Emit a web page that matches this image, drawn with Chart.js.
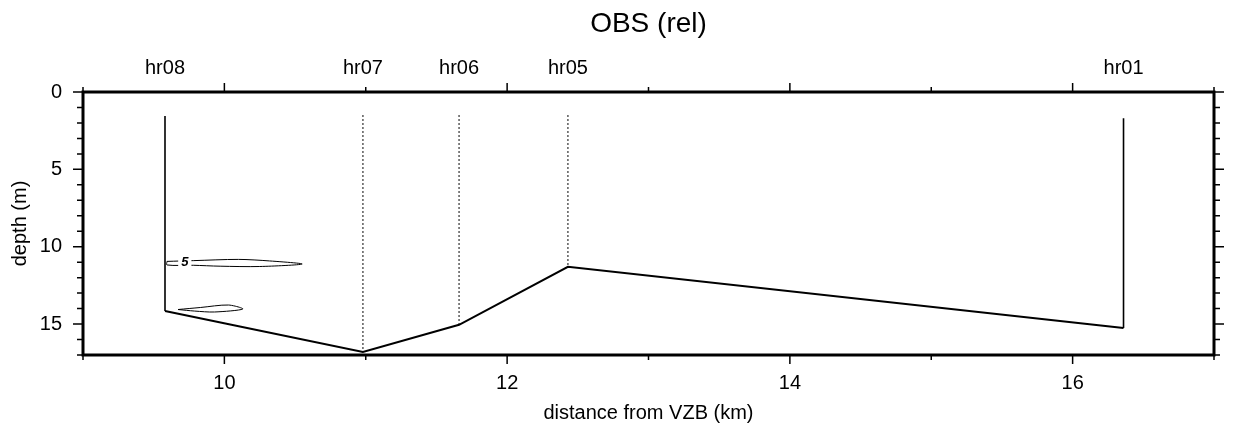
<!DOCTYPE html>
<html>
<head>
<meta charset="utf-8">
<title>OBS (rel)</title>
<script src="https://cdn.jsdelivr.net/npm/chart.js@4.4.1/dist/chart.umd.min.js"></script>
<style>
  html, body { margin: 0; padding: 0; background: #fff; }
  canvas { display: block; }
</style>
</head>
<body>
<canvas id="obsChart" width="1243" height="428"></canvas>
<script>
// stations along the profile
const stations = ['hr08', 'hr07', 'hr06', 'hr05', 'hr01'];
const stationKm = [9.58, 10.98, 11.66, 12.43, 16.36];
const seafloorDepth = [14.15, 16.8, 15.05, 11.3, 15.25];
const instrumentTop = [1.55, 1.5, 1.5, 1.5, 1.7];
const dottedTraces = ['hr07', 'hr06', 'hr05'];

const xTicks = [10, 12, 14, 16];
const depthTicks = [0, 5, 10, 15];

// closed contour outlines: [distance km, depth m]
const contourA = [[9.594, 10.95], [9.78, 10.9], [10.1, 10.82], [10.32, 10.92], [10.55, 11.12],
  [10.25, 11.28], [9.97, 11.26], [9.78, 11.2], [9.594, 11.18], [9.594, 10.95]];
const contourB = [[9.672, 14.06], [9.83, 13.93], [10.03, 13.77], [10.13, 14.03],
  [9.93, 14.22], [9.79, 14.16], [9.672, 14.06]];
const contourLabel = '5';
const contourLabelAt = [9.72, 11.0];

const black = '#000';
const font = '"Liberation Sans", Arial, Helvetica, sans-serif';

const seafloor = {
  data: stationKm.map((km, i) => ({ x: km, y: seafloorDepth[i] })),
  borderColor: black,
  borderWidth: 2,
  showLine: true,
  pointRadius: 0
};

const traces = stations.map((name, i) => {
  const dotted = dottedTraces.includes(name);
  return {
    data: [{ x: stationKm[i], y: instrumentTop[i] }, { x: stationKm[i], y: seafloorDepth[i] }],
    borderColor: black,
    borderWidth: dotted ? 1.3 : 1.6,
    borderDash: dotted ? [1.5, 2.5] : [],
    showLine: true,
    pointRadius: 0
  };
});

const contours = [contourA, contourB].map(pts => ({
  data: pts.map(p => ({ x: p[0], y: p[1] })),
  borderColor: black,
  borderWidth: 1,
  showLine: true,
  pointRadius: 0,
  tension: 0.3
}));

// frame, minor/major ticks on all four sides and the contour label
const frameAndTicks = {
  id: 'frameAndTicks',
  afterDatasetsDraw(chart) {
    const { ctx, chartArea: a, scales: { x, y } } = chart;
    ctx.save();

    const lx = x.getPixelForValue(contourLabelAt[0]);
    const ly = y.getPixelForValue(contourLabelAt[1]);
    ctx.font = 'italic bold 13px ' + font;
    const w = ctx.measureText(contourLabel).width;
    ctx.fillStyle = '#fff';
    ctx.fillRect(lx - w / 2 - 3, ly - 7, w + 6, 14);
    ctx.fillStyle = black;
    ctx.textAlign = 'center';
    ctx.textBaseline = 'middle';
    ctx.fillText(contourLabel, lx, ly);

    ctx.strokeStyle = black;
    ctx.lineWidth = 1.5;
    ctx.beginPath();
    for (let v = Math.ceil(x.min); v <= x.max; v++) {
      const px = x.getPixelForValue(v);
      const len = v % 2 === 0 ? 9 : 5;
      ctx.moveTo(px, a.bottom); ctx.lineTo(px, a.bottom + len);
      ctx.moveTo(px, a.top); ctx.lineTo(px, a.top - len);
    }
    for (let d = Math.ceil(y.min); d <= y.max; d++) {
      const py = y.getPixelForValue(d);
      const len = d % 5 === 0 ? 10 : 6;
      ctx.moveTo(a.left, py); ctx.lineTo(a.left - len, py);
      ctx.moveTo(a.right, py); ctx.lineTo(a.right + len, py);
    }
    ctx.stroke();

    ctx.lineWidth = 3;
    ctx.strokeRect(a.left, a.top, a.width, a.height);
    ctx.restore();
  }
};

const hidden = { display: false, drawTicks: false };
const noBorder = { display: false };
const tickFont = { family: font, size: 20 };

new Chart(document.getElementById('obsChart'), {
  type: 'scatter',
  data: { datasets: [seafloor, ...traces, ...contours] },
  options: {
    responsive: false,
    animation: false,
    devicePixelRatio: 1,
    layout: { padding: { left: 0, right: 29, top: 0, bottom: 0 } },
    plugins: {
      legend: { display: false },
      tooltip: { enabled: false },
      title: {
        display: true,
        fullSize: false,
        text: 'OBS (rel)',
        color: black,
        font: { family: font, size: 28, weight: 'normal' },
        padding: { top: 7, bottom: 0 }
      }
    },
    scales: {
      x: {
        type: 'linear',
        position: 'bottom',
        min: 9,
        max: 17,
        grid: hidden,
        border: noBorder,
        afterBuildTicks: s => { s.ticks = xTicks.map(v => ({ value: v })); },
        afterFit: s => { s.height = 73; },
        ticks: { color: black, font: tickFont, padding: 16, autoSkip: false, maxRotation: 0 },
        title: {
          display: true,
          text: 'distance from VZB (km)',
          color: black,
          font: tickFont,
          padding: { top: 0, bottom: 3 }
        }
      },
      x2: {
        type: 'linear',
        position: 'top',
        min: 9,
        max: 17,
        grid: hidden,
        border: noBorder,
        afterBuildTicks: s => { s.ticks = stationKm.map(v => ({ value: v })); },
        afterFit: s => { s.height = 51.4; },
        ticks: {
          color: black,
          font: tickFont,
          padding: 12,
          autoSkip: false,
          maxRotation: 0,
          callback: (v, i) => stations[i]
        }
      },
      y: {
        type: 'linear',
        position: 'left',
        min: 0,
        max: 17,
        reverse: true,
        grid: hidden,
        border: noBorder,
        afterBuildTicks: s => { s.ticks = depthTicks.map(v => ({ value: v })); },
        afterFit: s => { s.width = 83; },
        ticks: { color: black, font: tickFont, padding: 21 },
        title: {
          display: true,
          text: 'depth (m)',
          color: black,
          font: tickFont,
          padding: { top: 8, bottom: 0 }
        }
      }
    }
  },
  plugins: [frameAndTicks]
});
</script>
</body>
</html>
